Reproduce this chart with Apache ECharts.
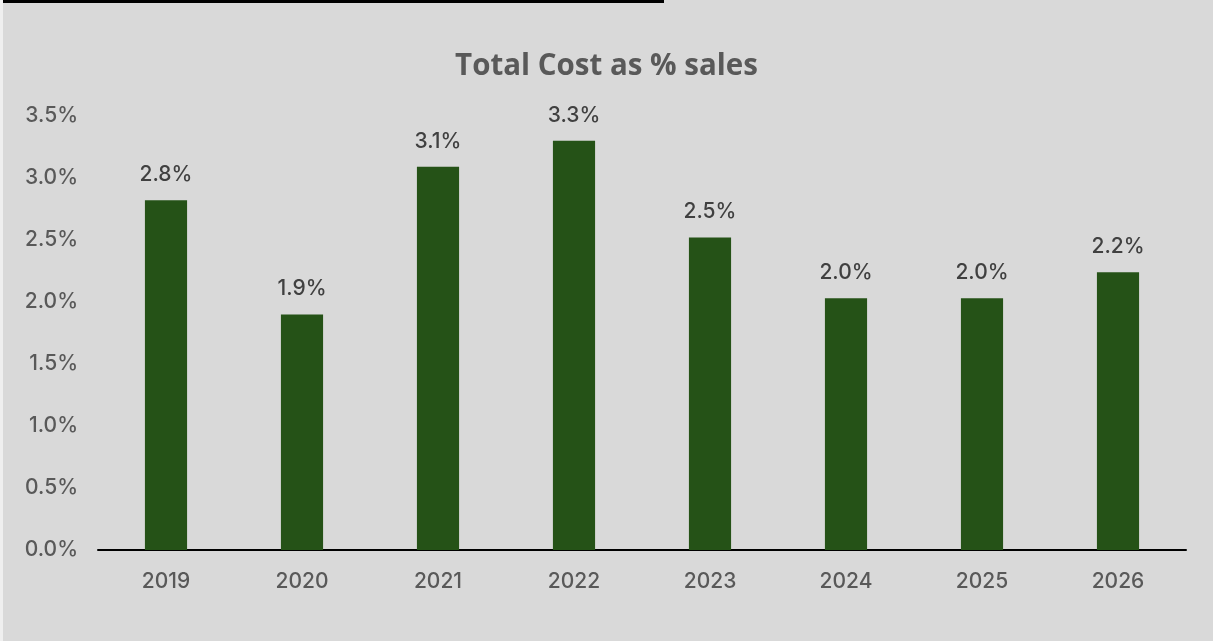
<!DOCTYPE html>
<html><head><meta charset="utf-8">
<script src="https://cdn.jsdelivr.net/npm/echarts@6/dist/echarts.min.js"></script>
<style>html,body{margin:0;padding:0;background:#d9d9d9;}#c{width:1213px;height:641px;}</style>
</head><body><div id="c"></div>
<script>
const categories = ['2019','2020','2021','2022','2023','2024','2025','2026'];
const values = [2.82, 1.90, 3.09, 3.30, 2.52, 2.03, 2.03, 2.24];
const yTicks = [0, 0.5, 1.0, 1.5, 2.0, 2.5, 3.0, 3.5];
const FONT = 'Inter, "Open Sans", Arial, sans-serif';
const TFONT = '"Open Sans", Inter, Arial, sans-serif';
const chart = echarts.init(document.getElementById('c'));
chart.setOption({
  backgroundColor: '#d9d9d9',
  animation: false,
  title: {
    text: 'Total Cost as % sales', left: 'center', top: 47,
    padding: [5, 0, 5, 8],
    textStyle: { fontFamily: TFONT, fontSize: 29.5, fontWeight: 'bold', color: '#595959' }
  },
  graphic: [
    { type: 'rect', shape: { x: 3, y: 0, width: 661, height: 3 }, style: { fill: '#000' } },
    { type: 'rect', shape: { x: 0, y: 0, width: 3, height: 641 }, style: { fill: '#efefef' } }
  ],
  grid: { left: 98, right: 27, top: 116, bottom: 91 },
  xAxis: {
    type: 'category', data: categories,
    axisLine: { lineStyle: { color: '#000', width: 2 } },
    axisTick: { show: false },
    axisLabel: { color: '#595959', fontSize: 21, fontWeight: 500, margin: 21, fontFamily: FONT }
  },
  yAxis: {
    type: 'value', min: 0, max: 3.5, interval: 0.5,
    splitLine: { show: false },
    axisLine: { show: false }, axisTick: { show: false },
    axisLabel: { color: '#595959', fontSize: 21, fontWeight: 500, margin: 20, fontFamily: FONT,
      formatter: v => v.toFixed(1) + '%' }
  },
  series: [{
    type: 'bar', data: values, barWidth: '31%',
    itemStyle: { color: '#255217' },
    label: { show: true, position: 'top', distance: 15, color: '#404040', fontSize: 21, fontWeight: 500,
      fontFamily: FONT, formatter: p => p.value.toFixed(1) + '%' }
  }]
});
</script></body></html>
